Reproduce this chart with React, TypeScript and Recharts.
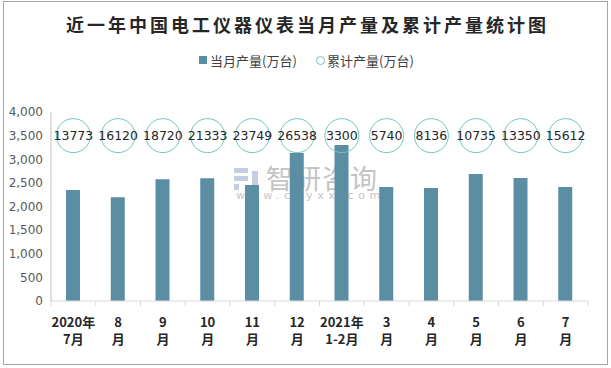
import React from "react";
import {
  ComposedChart,
  Bar,
  Line,
  XAxis,
  YAxis,
} from "recharts";

const months = [
  "2020年|7月",
  "8|月",
  "9|月",
  "10|月",
  "11|月",
  "12|月",
  "2021年|1-2月",
  "3|月",
  "4|月",
  "5|月",
  "6|月",
  "7|月",
];
const monthly = [2350, 2195, 2575, 2597, 2455, 3132, 3300, 2413, 2392, 2688, 2603, 2413];
const cumulative = [13773, 16120, 18720, 21333, 23749, 26538, 3300, 5740, 8136, 10735, 13350, 15612];
// the bubbles holding the cumulative numbers sit on this level of the left axis
const bubbleLevel = 3500;
const yTicks = [0, 500, 1000, 1500, 2000, 2500, 3000, 3500, 4000];

const data = months.map((m, i) => ({
  month: m,
  monthly: monthly[i],
  cumulative: cumulative[i],
  bubble: bubbleLevel,
}));

const BAR_COLOR = "#5b8ea3";
const RING_COLOR = "#72c6c0";
const FONT = "'Noto Sans CJK SC', 'Noto Sans', sans-serif";
const BAND = (611 - 23 - 51) / months.length;

function MonthTick(props: any) {
  const { x, y, payload, index } = props;
  const [a, b] = String(payload.value).split("|");
  const last = index === months.length - 1;
  return (
    <g transform={`translate(${x},${y})`}>
      <line x1={-BAND / 2} x2={-BAND / 2} y1={-8} y2={-3} stroke="#d9d9d9" />
      {last && <line x1={BAND / 2} x2={BAND / 2} y1={-8} y2={-3} stroke="#d9d9d9" />}
      <text textAnchor="middle" fontSize={13} fontWeight="bold" fill="#262626" fontFamily={FONT}>
        <tspan x={0} dy={18}>{a}</tspan>
        <tspan x={0} dy={17}>{b}</tspan>
      </text>
    </g>
  );
}

function Bubble(props: any) {
  const { cx, cy, index } = props;
  return (
    <g key={index}>
      <circle cx={cx} cy={cy} r={17} fill="none" stroke={RING_COLOR} strokeWidth={1} />
      <text x={cx} y={cy + 4.5} textAnchor="middle" fontSize={12.5} fill="#262626" fontFamily="'DejaVu Sans', sans-serif">
        {cumulative[index]}
      </text>
    </g>
  );
}

export default function App() {
  return (
    <div style={{ position: "absolute", left: 0, top: 0, width: 611, height: 368, background: "#fff", fontFamily: FONT }}>
      <div
        style={{
          position: "absolute",
          left: 3,
          top: 1,
          width: 603,
          height: 362,
          border: "1px solid #a6a6a6",
        }}
      />
      <div
        style={{
          position: "absolute",
          top: 11,
          left: 2,
          width: 611,
          textAlign: "center",
          fontSize: 18,
          fontWeight: "bold",
          color: "#262626",
          fontFamily: "'Noto Sans CJK SC', serif",
          letterSpacing: 3,
        }}
      >
        近一年中国电工仪器仪表当月产量及累计产量统计图
      </div>
      <div style={{ position: "absolute", top: 52, left: 0, width: 611, fontSize: 13, color: "#404040" }}>
        <div style={{ position: "absolute", left: 199, top: 4, width: 8, height: 8, background: BAR_COLOR }} />
        <div style={{ position: "absolute", left: 210, top: 0, lineHeight: "17px" }}>当月产量(万台)</div>
        <div
          style={{
            position: "absolute",
            left: 316,
            top: 4,
            width: 7,
            height: 7,
            borderRadius: "50%",
            border: `1px solid ${RING_COLOR}`,
          }}
        />
        <div style={{ position: "absolute", left: 327, top: 0, lineHeight: "17px" }}>累计产量(万台)</div>
      </div>
      {/* watermark */}
      <div style={{ position: "absolute", left: 234, top: 168, width: 26, height: 22 }}>
        <div style={{ position: "absolute", left: 0, top: 0, width: 14, height: 5, background: "#c5cde0" }} />
        <div style={{ position: "absolute", left: 0, top: 8, width: 14, height: 5, background: "#c5cde0" }} />
        <div style={{ position: "absolute", left: 0, top: 16, width: 5, height: 6, background: "#c5cde0" }} />
        <div style={{ position: "absolute", left: 18, top: 3, width: 6, height: 16, background: "#c5cde0" }} />
      </div>
      <div style={{ position: "absolute", left: 266, top: 161, color: "#c4c4c4", fontSize: 27, lineHeight: "34px", letterSpacing: 1 }}>
        智研咨询
      </div>
      <div
        style={{
          position: "absolute",
          left: 236,
          top: 189,
          color: "#c4c4c4",
          fontSize: 11,
          letterSpacing: 4.6,
          fontFamily: "'DejaVu Sans', sans-serif",
        }}
      >
        www.chyxx.com
      </div>
      <div style={{ position: "absolute", left: 0, top: 0 }}>
        <ComposedChart
          width={611}
          height={368}
          data={data}
          margin={{ top: 112, right: 23, bottom: 0, left: 0 }}
        >
          <XAxis
            dataKey="month"
            interval={0}
            tick={<MonthTick />}
            axisLine={{ stroke: "#d9d9d9" }}
            tickLine={false}
            height={67}
          />
          <YAxis
            domain={[0, 4000]}
            ticks={yTicks}
            tickFormatter={(v: number) => v.toLocaleString("en-US")}
            tick={{ fontSize: 12, fill: "#595959", fontFamily: "'DejaVu Sans', sans-serif" }}
            axisLine={{ stroke: "#bfbfbf" }}
            tickLine={false}
            width={51}
          />
          <Bar dataKey="monthly" fill={BAR_COLOR} barSize={14} isAnimationActive={false} />
          <Line
            dataKey="bubble"
            stroke="none"
            dot={<Bubble />}
            activeDot={false}
            isAnimationActive={false}
          />
        </ComposedChart>
      </div>
    </div>
  );
}
